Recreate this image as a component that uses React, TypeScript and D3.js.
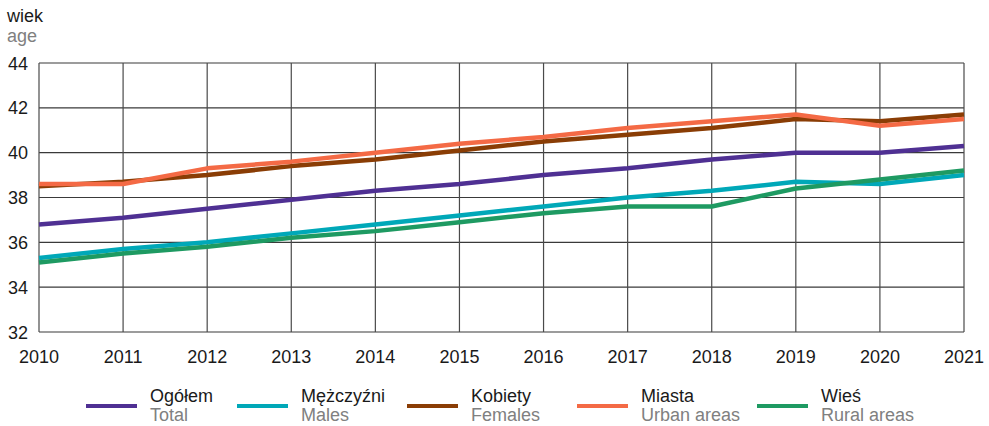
import React from "react";
import * as d3 from "d3";

const years = [2010, 2011, 2012, 2013, 2014, 2015, 2016, 2017, 2018, 2019, 2020, 2021];
const yTicks = [32, 34, 36, 38, 40, 42, 44];

const total = [36.8, 37.1, 37.5, 37.9, 38.3, 38.6, 39.0, 39.3, 39.7, 40.0, 40.0, 40.3];
const males = [35.3, 35.7, 36.0, 36.4, 36.8, 37.2, 37.6, 38.0, 38.3, 38.7, 38.6, 39.0];
const females = [38.5, 38.7, 39.0, 39.4, 39.7, 40.1, 40.5, 40.8, 41.1, 41.5, 41.4, 41.7];
const urban = [38.6, 38.6, 39.3, 39.6, 40.0, 40.4, 40.7, 41.1, 41.4, 41.7, 41.2, 41.5];
const rural = [35.1, 35.5, 35.8, 36.2, 36.5, 36.9, 37.3, 37.6, 37.6, 38.4, 38.8, 39.2];

const series = [
  { pl: "Ogółem", en: "Total", values: total, color: "#4f3093" },
  { pl: "Mężczyźni", en: "Males", values: males, color: "#00a8b8" },
  { pl: "Kobiety", en: "Females", values: females, color: "#8a3d05" },
  { pl: "Miasta", en: "Urban areas", values: urban, color: "#f46a45" },
  { pl: "Wieś", en: "Rural areas", values: rural, color: "#1e9a62" },
];

// draw order: brown under orange, teal under green
const drawOrder = [0, 2, 3, 1, 4];

export default function App() {
  const width = 989;
  const height = 426;
  const margin = { left: 39, right: 25, top: 63, bottom: 94 };

  const x = d3.scaleLinear().domain([2010, 2021]).range([margin.left, width - margin.right]);
  const y = d3.scaleLinear().domain([32, 44]).range([height - margin.bottom, margin.top]);

  const line = d3
    .line<number>()
    .x((_, i) => x(years[i]))
    .y((d) => y(d));

  const font = "'Liberation Sans', Arial, sans-serif";
  const legendX = [86, 237, 407, 577, 757];

  return (
    <svg
      width={width}
      height={height}
      style={{ position: "absolute", left: 0, top: 0, fontFamily: font }}
    >
      <rect width={width} height={height} fill="#fff" />
      <text x={7} y={22} fontSize={18} fill="#1a1a1a">wiek</text>
      <text x={7} y={42} fontSize={18} fill="#808080">age</text>

      {/* grid */}
      {yTicks.map((t) => (
        <g key={"y" + t}>
          <line x1={x(2010)} x2={x(2021)} y1={y(t)} y2={y(t)} stroke="#3a3a3a" strokeWidth={1.2} />
          <text x={28} y={y(t) + 6.5} fontSize={18} textAnchor="end" fill="#1a1a1a">{t}</text>
        </g>
      ))}
      {years.map((yr) => (
        <g key={"x" + yr}>
          <line x1={x(yr)} x2={x(yr)} y1={y(32)} y2={y(44)} stroke="#4a4a4a" strokeWidth={1.2} />
          <text x={x(yr)} y={363} fontSize={18} textAnchor="middle" fill="#1a1a1a">{yr}</text>
        </g>
      ))}

      {drawOrder.map((i) => (
        <path
          key={series[i].pl}
          d={line(series[i].values) || ""}
          fill="none"
          stroke={series[i].color}
          strokeWidth={4.5}
          strokeLinejoin="round"
        />
      ))}

      {series.map((s, i) => (
        <g key={"leg" + s.pl} transform={`translate(${legendX[i]},0)`}>
          <line x1={0} x2={51} y1={406} y2={406} stroke={s.color} strokeWidth={4} />
          <text x={64} y={402} fontSize={18} fill="#1a1a1a">{s.pl}</text>
          <text x={64} y={421} fontSize={18} fill="#808080">{s.en}</text>
        </g>
      ))}
    </svg>
  );
}
